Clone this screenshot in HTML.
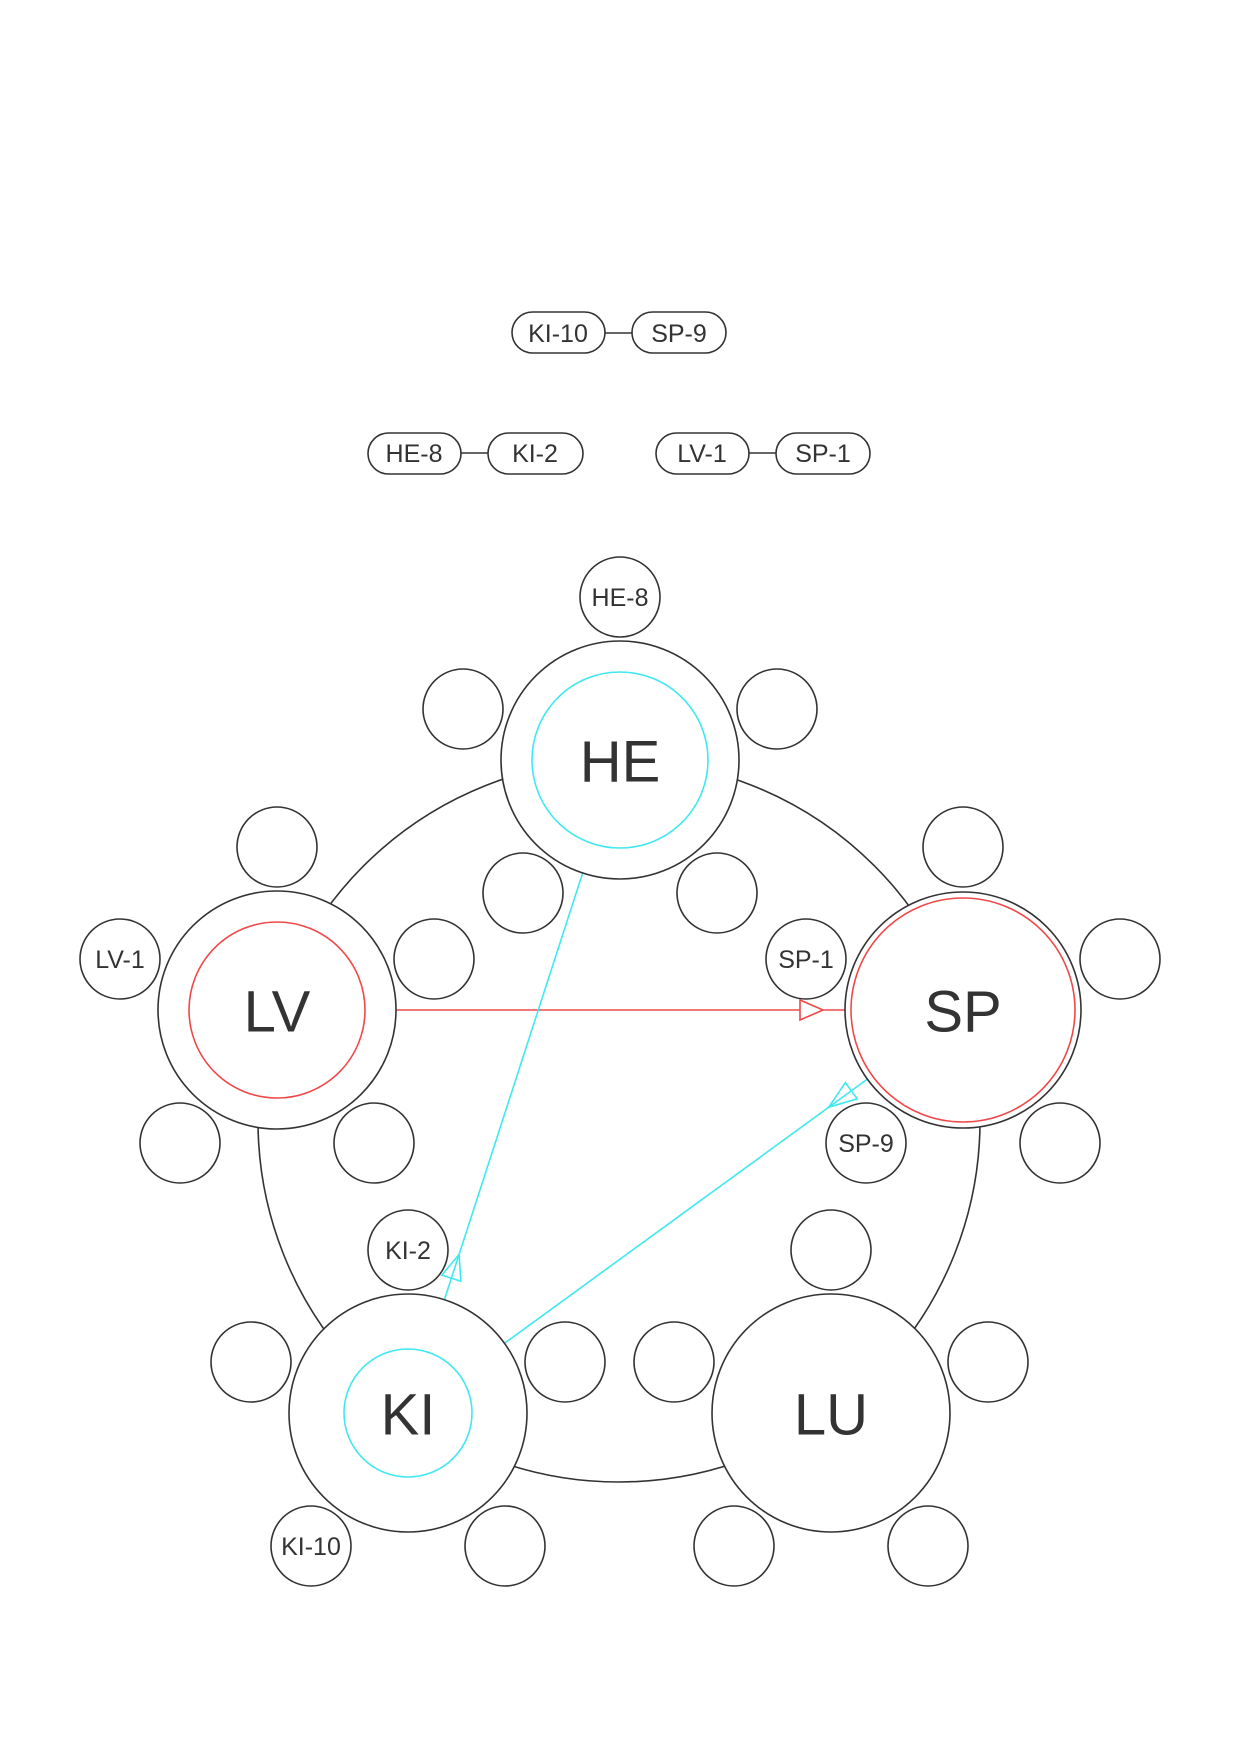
<!DOCTYPE html>
<html><head><meta charset="utf-8"><style>
html,body{margin:0;padding:0;background:#fff;}
svg{display:block;}
text{font-family:"Liberation Sans",Arial,sans-serif;fill:#333;text-anchor:middle;dominant-baseline:central;}
</style></head><body>
<svg width="1240" height="1754" viewBox="0 0 1240 1754" xmlns="http://www.w3.org/2000/svg">
<g fill="#fff" stroke="#333" stroke-width="1.6">
  <!-- pills -->
  <line x1="605" y1="333" x2="632" y2="333"/>
  <rect x="512" y="312" width="93" height="41" rx="20.5"/>
  <rect x="632" y="312" width="94" height="41" rx="20.5"/>
  <line x1="461" y1="453" x2="488" y2="453"/>
  <rect x="368" y="433" width="93" height="41" rx="20.5"/>
  <rect x="488" y="433" width="95" height="41" rx="20.5"/>
  <line x1="749" y1="453" x2="776" y2="453"/>
  <rect x="656" y="433" width="93" height="41" rx="20.5"/>
  <rect x="776" y="433" width="94" height="41" rx="20.5"/>
  <!-- pentagon circle -->
  <circle cx="619" cy="1121" r="361" fill="none"/>
</g>
<g font-size="25">
<text x="558" y="334">KI-10</text><text x="679" y="334">SP-9</text>
<text x="414" y="454">HE-8</text><text x="535" y="454">KI-2</text>
<text x="702" y="454">LV-1</text><text x="823" y="454">SP-1</text>
</g>
<!-- connectors -->
<g fill="none" stroke-width="1.6">
  <line x1="393" y1="1010" x2="845" y2="1010" stroke="#f04848"/>
  <polygon points="800,1000 823,1010 800,1020" stroke="#f04848" fill="#fff"/>
  <line x1="583" y1="872" x2="444" y2="1301" stroke="#40e8f0"/>
  <polygon points="460.9,1281.3 459.1,1254.4 441.9,1275.1" stroke="#40e8f0"/>
  <line x1="867.5" y1="1079" x2="503.5" y2="1344" stroke="#40e8f0"/>
  <polygon points="857.2,1098.8 828.7,1107.2 845.4,1082.6" stroke="#40e8f0"/>
</g>
<g fill="#fff" stroke="#333" stroke-width="1.6">
  <!-- HE (620,760) -->
  <circle cx="620" cy="597" r="40"/><circle cx="463" cy="709" r="40"/><circle cx="777" cy="709" r="40"/><circle cx="523" cy="893" r="40"/><circle cx="717" cy="893" r="40"/>
  <!-- LV (277,1010) -->
  <circle cx="277" cy="847" r="40"/><circle cx="120" cy="959" r="40"/><circle cx="434" cy="959" r="40"/><circle cx="180" cy="1143" r="40"/><circle cx="374" cy="1143" r="40"/>
  <!-- SP (963,1010) -->
  <circle cx="963" cy="847" r="40"/><circle cx="806" cy="959" r="40"/><circle cx="1120" cy="959" r="40"/><circle cx="866" cy="1143" r="40"/><circle cx="1060" cy="1143" r="40"/>
  <!-- KI (408,1413) -->
  <circle cx="408" cy="1250" r="40"/><circle cx="251" cy="1362" r="40"/><circle cx="565" cy="1362" r="40"/><circle cx="311" cy="1546" r="40"/><circle cx="505" cy="1546" r="40"/>
  <!-- LU (831,1413) -->
  <circle cx="831" cy="1250" r="40"/><circle cx="674" cy="1362" r="40"/><circle cx="988" cy="1362" r="40"/><circle cx="734" cy="1546" r="40"/><circle cx="928" cy="1546" r="40"/>
</g>
<!-- big nodes drawn after lines but lines must remain visible: re-draw lines segments outside nodes is automatic since lines end at node edges -->
<g fill="#fff" stroke="#333" stroke-width="1.6">
  <circle cx="620" cy="760" r="119"/>
  <circle cx="277" cy="1010" r="119"/>
  <circle cx="963" cy="1010" r="118"/>
  <circle cx="408" cy="1413" r="119"/>
  <circle cx="831" cy="1413" r="119"/>
</g>
<g fill="none" stroke-width="1.6">
  <circle cx="620" cy="760" r="88" stroke="#40e8f0"/>
  <circle cx="277" cy="1010" r="88" stroke="#f04848"/>
  <circle cx="963" cy="1010" r="112" stroke="#f04848"/>
  <circle cx="408" cy="1413" r="64" stroke="#40e8f0"/>
</g>
<g font-size="58">
<text x="620" y="762">HE</text><text x="277" y="1012">LV</text><text x="963" y="1012">SP</text>
<text x="408" y="1415">KI</text><text x="831" y="1415">LU</text>
</g>
<g font-size="25">
<text x="620" y="598">HE-8</text><text x="120" y="960">LV-1</text><text x="806" y="960">SP-1</text>
<text x="866" y="1144">SP-9</text><text x="408" y="1251">KI-2</text><text x="311" y="1547">KI-10</text>
</g>
</svg>
</body></html>
